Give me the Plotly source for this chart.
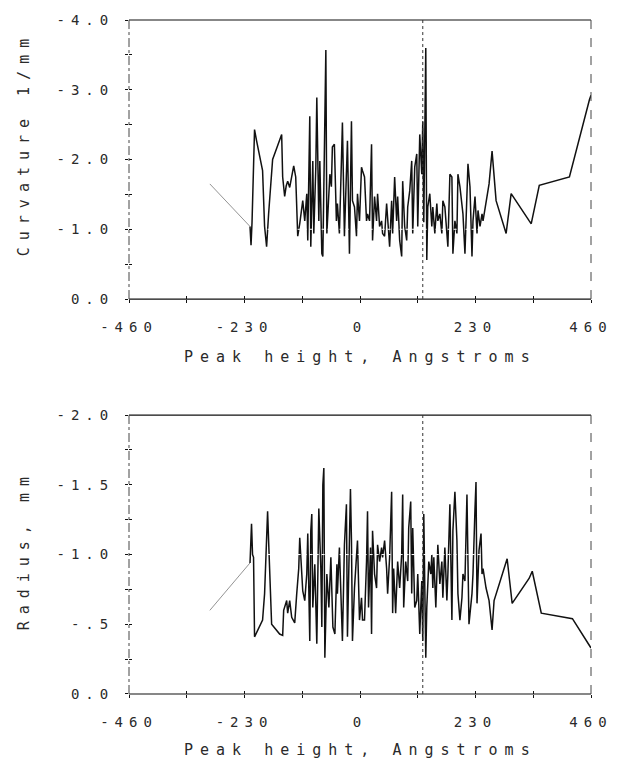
import plotly.graph_objects as go

# ---------------- data ----------------
curv_x = [-299, -219, -217, -215, -210, -206, -200, -194, -190, -186, -182, -176, -174, -165, -156,
          -154, -150, -147, -144, -140, -132, -128, -124, -120, -114, -110, -106, -104, -100, -98,
          -94, -92, -88, -86, -82, -80, -76, -74, -70, -68, -66, -60, -57, -55, -51, -47, -45, -41,
          -37, -35, -31, -27, -25, -21, -19, -17, -15, -11, -7, -5, -1, 3, 5, 9, 13, 15, 19, 23, 25,
          29, 33, 35, 39, 43, 45, 49, 53, 55, 59, 63, 65, 69, 73, 75, 79, 83, 85, 89, 93, 95, 99,
          103, 105, 109, 113, 115, 119, 123, 125, 127, 131, 133, 135, 139, 143, 145, 149, 153, 155,
          159, 163, 165, 169, 173, 175, 179, 183, 185, 189, 193, 195, 199, 203, 205, 209, 213, 215,
          219, 223, 225, 229, 233, 235, 239, 243, 245, 251, 257, 263, 267, 271, 291, 301, 337, 341,
          357, 417, 457, 460]
curv_y = [-1.65, -1.04, -0.77, -1.10, -2.43, -2.27, -2.05, -1.84, -1.04, -0.75, -1.22, -1.94, -2.00,
          -2.18, -2.36, -1.75, -1.47, -1.62, -1.69, -1.60, -1.91, -1.75, -0.90, -1.08, -1.41, -1.12,
          -1.51, -0.84, -2.62, -0.75, -1.98, -0.94, -1.89, -2.89, -1.12, -1.98, -0.65, -0.61, -2.36,
          -3.57, -0.94, -1.79, -1.61, -2.18, -2.22, -1.12, -1.37, -0.94, -1.98, -2.53, -0.90, -1.79,
          -2.27, -0.65, -1.79, -2.55, -1.41, -1.32, -0.90, -1.51, -1.12, -1.89, -1.84, -1.75, -1.12,
          -1.22, -1.12, -2.22, -0.84, -1.47, -1.12, -1.51, -1.04, -1.12, -0.94, -0.90, -1.37, -1.12,
          -0.75, -1.41, -0.94, -1.75, -1.12, -1.47, -0.84, -0.61, -1.69, -1.04, -0.84, -1.32, -1.55,
          -1.98, -0.94, -1.89, -2.08, -1.04, -2.36, -1.79, -2.55, -1.10, -3.60, -0.56, -1.32, -1.51,
          -1.04, -1.32, -0.94, -1.37, -1.12, -1.22, -0.94, -1.41, -1.32, -0.94, -0.75, -1.79, -1.75,
          -0.65, -1.12, -0.94, -1.79, -1.61, -1.32, -1.22, -0.65, -1.47, -1.94, -1.61, -0.61, -1.12,
          -1.47, -0.94, -1.27, -1.04, -1.22, -1.12, -1.37, -1.65, -2.12, -1.69, -1.41, -0.94, -1.51,
          -1.12, -1.08, -1.63, -1.75, -2.86, -2.92]

rad_x = [-299, -219, -216, -214, -212, -210, -204, -194, -190, -186, -184, -182, -176, -160, -154,
         -152, -146, -144, -140, -136, -130, -126, -122, -120, -116, -114, -110, -106, -104, -100,
         -98, -96, -94, -90, -86, -84, -82, -78, -76, -74, -72, -70, -66, -62, -58, -54, -50, -46,
         -45, -41, -37, -35, -31, -27, -25, -21, -19, -17, -15, -11, -7, -5, -1, 3, 5, 9, 13, 15,
         17, 21, 23, 25, 29, 33, 35, 39, 43, 45, 49, 53, 55, 59, 63, 65, 67, 71, 75, 79, 83, 85, 87,
         91, 95, 97, 101, 103, 105, 109, 113, 115, 119, 123, 125, 127, 131, 133, 137, 141, 143, 145,
         147, 151, 155, 159, 163, 165, 169, 173, 175, 179, 183, 185, 189, 193, 195, 199, 203, 205,
         209, 213, 215, 217, 223, 225, 229, 231, 233, 237, 241, 243, 245, 251, 257, 263, 267, 293,
         303, 337, 343, 361, 423, 460]
rad_y = [-0.60, -0.94, -1.22, -1.00, -0.98, -0.41, -0.46, -0.53, -0.72, -1.12, -1.31, -1.10, -0.50,
         -0.43, -0.42, -0.60, -0.67, -0.58, -0.67, -0.55, -0.51, -0.72, -0.90, -1.12, -0.83, -0.74,
         -0.67, -0.86, -1.15, -0.38, -1.17, -1.29, -0.62, -0.93, -0.36, -1.10, -1.33, -0.90, -0.48,
         -1.50, -1.62, -0.26, -0.86, -0.62, -0.98, -0.48, -0.43, -0.93, -0.72, -1.05, -0.58, -0.38,
         -1.07, -1.36, -0.41, -1.22, -1.47, -1.10, -0.38, -0.76, -0.95, -1.10, -0.53, -0.69, -0.53,
         -0.53, -0.95, -1.31, -0.62, -1.05, -0.43, -1.17, -0.86, -0.76, -1.07, -0.95, -1.05, -0.98,
         -1.10, -0.90, -0.72, -0.98, -1.45, -0.58, -0.90, -0.58, -0.95, -0.76, -1.00, -1.43, -0.62,
         -0.95, -0.81, -1.19, -1.38, -0.72, -1.19, -0.62, -0.67, -0.86, -0.43, -0.81, -0.38, -1.29,
         -0.26, -0.62, -0.95, -0.86, -1.00, -0.76, -0.98, -0.62, -1.07, -0.79, -0.95, -0.69, -1.05,
         -0.67, -0.86, -1.36, -0.53, -1.17, -1.45, -1.10, -0.72, -0.53, -0.69, -0.86, -0.81, -1.43,
         -0.95, -0.50, -0.72, -0.86, -1.33, -1.52, -0.65, -1.03, -1.15, -0.86, -0.90, -0.76, -0.67,
         -0.46, -0.67, -0.97, -0.65, -0.83, -0.88, -0.58, -0.54, -0.33]

x_tickvals = [-460, -345, -230, -115, 0, 115, 230, 345, 460]
x_ticktext = ["-460", "", "-230", "", "0", "", "230", "", "460"]
curv_tickvals = [-4.0, -3.5, -3.0, -2.5, -2.0, -1.5, -1.0, -0.5, 0.0]
curv_ticktext = ["-4.0", "", "-3.0", "", "-2.0", "", "-1.0", "", "0.0"]
rad_tickvals = [-2.0, -1.75, -1.5, -1.25, -1.0, -0.75, -0.5, -0.25, 0.0]
rad_ticktext = ["-2.0", "", "-1.5", "", "-1.0", "", "-.5", "", "0.0"]
ref_x = 125        # vertical dotted reference line
white_grid_y = -1.0

x_title = "Peak height, Angstroms"
curv_title = "Curvature 1/mm"
rad_title = "Radius, mm"

# ---------------- styling ----------------
FONT = "DejaVu Sans Mono"
TXT = "#2a2a2a"
INK = "#111111"


def spaced(s, ls=6):
    return f'<span style="letter-spacing:{ls}px">{s}</span>' if s else ""


fig = go.Figure()

for xs, ys, xa, ya in [(curv_x, curv_y, "x", "y"), (rad_x, rad_y, "x2", "y2")]:
    fig.add_trace(go.Scatter(x=xs[:2], y=ys[:2], mode="lines", xaxis=xa, yaxis=ya,
                             line=dict(color="#777777", width=0.8), showlegend=False,
                             hoverinfo="skip"))
    fig.add_trace(go.Scatter(x=xs[1:], y=ys[1:], mode="lines", xaxis=xa, yaxis=ya,
                             line=dict(color=INK, width=1.5), showlegend=False))

# invisible traces for overlay axes (inside half of the cross ticks)
fig.add_trace(go.Scatter(x=[None], y=[None], xaxis="x3", yaxis="y3", showlegend=False))
fig.add_trace(go.Scatter(x=[None], y=[None], xaxis="x4", yaxis="y4", showlegend=False))

TOP_DOM = [0.586, 1.0]
BOT_DOM = [0.0, 0.4138]

xcommon = dict(range=[-460, 460], tickmode="array", tickvals=x_tickvals,
               showgrid=False, zeroline=False, showline=False,
               tickcolor=INK, tickwidth=1, tickfont=dict(family=FONT, size=14, color=TXT))
ycommon = dict(tickmode="array", showgrid=False, zeroline=False, showline=False,
               tickcolor=INK, tickwidth=1, tickfont=dict(family=FONT, size=14, color=TXT))

fig.update_layout(
    xaxis=dict(**xcommon, domain=[0, 1], anchor="y", ticks="outside", ticklen=3,
               ticktext=[spaced(t) for t in x_ticktext], ticklabelstandoff=12),
    yaxis=dict(**ycommon, domain=TOP_DOM, anchor="x", range=[0, -4], ticks="outside", ticklen=3,
               tickvals=curv_tickvals, ticktext=[spaced(t) for t in curv_ticktext],
               ticklabelstandoff=8),
    xaxis2=dict(**xcommon, domain=[0, 1], anchor="y2", ticks="outside", ticklen=3,
                ticktext=[spaced(t) for t in x_ticktext], ticklabelstandoff=12),
    yaxis2=dict(**ycommon, domain=BOT_DOM, anchor="x2", range=[0, -2], ticks="outside", ticklen=3,
                tickvals=rad_tickvals, ticktext=[spaced(t) for t in rad_ticktext],
                ticklabelstandoff=8),
    xaxis3=dict(**xcommon, overlaying="x", anchor="y3", ticks="inside", ticklen=3,
                showticklabels=False),
    yaxis3=dict(**ycommon, overlaying="y", anchor="x3", range=[0, -4], ticks="inside", ticklen=3,
                tickvals=curv_tickvals, showticklabels=False),
    xaxis4=dict(**xcommon, overlaying="x2", anchor="y4", ticks="inside", ticklen=3,
                showticklabels=False),
    yaxis4=dict(**ycommon, overlaying="y2", anchor="x4", range=[0, -2], ticks="inside", ticklen=3,
                tickvals=rad_tickvals, showticklabels=False),
    width=625, height=769,
    margin=dict(l=129, r=33, t=15, b=75),
    paper_bgcolor="white", plot_bgcolor="white",
    showlegend=False,
)

shapes = []
for xa, ya in [("x", "y"), ("x2", "y2")]:
    xd, yd = f"{xa} domain", f"{ya} domain"
    shapes.append(dict(type="line", xref=xd, yref=yd, x0=0, x1=1, y0=1, y1=1,
                       line=dict(color=INK, width=1.2)))
    shapes.append(dict(type="line", xref=xd, yref=yd, x0=0, x1=1, y0=0, y1=0,
                       line=dict(color=INK, width=1.2)))
    shapes.append(dict(type="line", xref=xd, yref=yd, x0=0, x1=0, y0=0, y1=1,
                       line=dict(color="#444444", width=1, dash="dashdot")))
    shapes.append(dict(type="line", xref=xd, yref=yd, x0=1, x1=1, y0=0, y1=1,
                       line=dict(color="#444444", width=1, dash="dash")))
    shapes.append(dict(type="line", xref=xa, yref=yd, x0=ref_x, x1=ref_x, y0=0, y1=1,
                       line=dict(color="#333333", width=1, dash="dot")))
    shapes.append(dict(type="line", xref=xd, yref=ya, x0=0.3, x1=0.78, y0=white_grid_y,
                       y1=white_grid_y, layer="above",
                       line=dict(color="white", width=1, dash="dot")))
fig.update_layout(shapes=shapes)

ann_font = dict(family=FONT, size=15, color=TXT)
annotations = [
    dict(text=spaced(x_title, 7), xref="paper", yref="paper", x=0.5, y=0.4993,
         xanchor="center", yanchor="middle", showarrow=False, font=ann_font),
    dict(text=spaced(x_title, 7), xref="paper", yref="paper", x=0.5, y=-0.0825,
         xanchor="center", yanchor="middle", showarrow=False, font=ann_font),
    dict(text=spaced(curv_title, 7), xref="paper", yref="paper", x=-0.2268, y=0.816,
         xanchor="center", yanchor="middle", showarrow=False, textangle=-90, font=ann_font),
    dict(text=spaced(rad_title, 7), xref="paper", yref="paper", x=-0.2268, y=0.2135,
         xanchor="center", yanchor="middle", showarrow=False, textangle=-90, font=ann_font),
]
fig.update_layout(annotations=annotations)

fig.write_html("out.html")
